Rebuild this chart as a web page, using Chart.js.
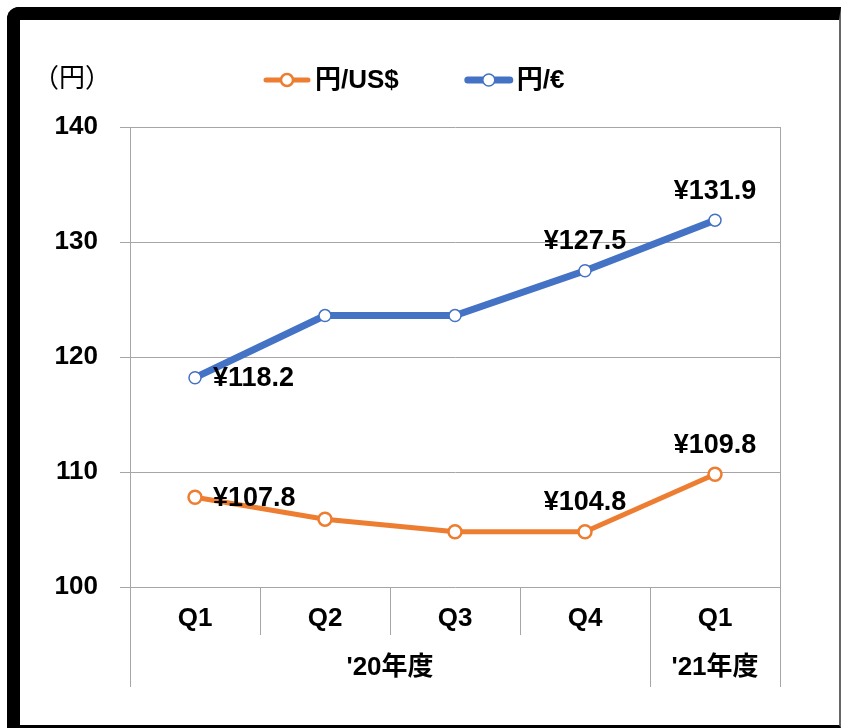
<!DOCTYPE html>
<html>
<head>
<meta charset="utf-8">
<script src="https://cdn.jsdelivr.net/npm/chart.js@4.4.1/dist/chart.umd.min.js"></script>
<style>
  html, body { margin: 0; padding: 0; background: #fff; }
  #wrap { position: relative; width: 841px; height: 728px; overflow: hidden; }
  #frame {
    position: absolute; left: 7px; top: 7px; width: 834px; height: 721px;
    box-sizing: border-box;
    border-top: 13px solid #000; border-left: 13px solid #000;
    border-right: 2px solid #666; border-bottom: 3px solid #000;
    border-top-left-radius: 12px;
  }
  #chart { position: absolute; left: 0; top: 0; }
</style>
</head>
<body>
<div id="wrap">
  <div id="frame"></div>
  <canvas id="chart" width="841" height="728"></canvas>
</div>
<script>
// Quarterly exchange rates (yen)
const quarters = ['Q1', 'Q2', 'Q3', 'Q4', 'Q1'];
const groupLabels = ["'20年度", "'21年度"];
const groupSpans = [4, 1];
const usdRates = [107.8, 105.9, 104.8, 104.8, 109.8];
const eurRates = [118.2, 123.6, 123.6, 127.5, 131.9];
const usdShowLabel = [true, false, false, true, true];
const eurShowLabel = [true, false, false, true, true];
const yTicks = [100, 110, 120, 130, 140];

const FONT = "'Liberation Sans', 'Noto Sans CJK JP', Arial, sans-serif";
const orange = '#ED7D31';
const blue = '#4472C4';
const gridColor = '#a6a6a6';

// where the value label sits relative to its point
const labelPlace = ['right', null, null, 'top', 'top'];

const extrasPlugin = {
  id: 'extras',
  afterDraw(chart) {
    const ctx = chart.ctx;
    const x = chart.scales.x;
    const area = chart.chartArea;
    const n = quarters.length;
    const bottomShort = 635, bottomLong = 687;

    const edge = i => {
      if (i <= 0) return area.left;
      if (i >= n) return area.right;
      return (x.getPixelForValue(i - 1) + x.getPixelForValue(i)) / 2;
    };

    ctx.save();
    ctx.strokeStyle = gridColor;
    ctx.lineWidth = 1;
    // group boundaries (long) and quarter boundaries (short)
    const groupEdges = [0];
    groupSpans.forEach(s => groupEdges.push(groupEdges[groupEdges.length - 1] + s));
    for (let i = 0; i <= n; i++) {
      const px = Math.round(edge(i)) + 0.5;
      const isGroup = groupEdges.includes(i);
      ctx.beginPath();
      ctx.moveTo(px, isGroup && (i === n) ? area.top : area.bottom);
      ctx.lineTo(px, isGroup ? bottomLong : bottomShort);
      ctx.stroke();
    }

    // group labels
    ctx.fillStyle = '#000';
    ctx.font = 'bold 26px ' + FONT;
    ctx.textAlign = 'center';
    ctx.textBaseline = 'middle';
    groupLabels.forEach((g, k) => {
      const cx = (edge(groupEdges[k]) + edge(groupEdges[k + 1])) / 2;
      ctx.fillText(g, cx, 668);
    });

    // unit label
    ctx.font = '26px ' + FONT;
    ctx.textAlign = 'left';
    ctx.fillText('（円）', 33, 80);

    // legend
    let lx = 263;
    chart.data.datasets.forEach(ds => {
      ctx.strokeStyle = ds.borderColor;
      ctx.lineWidth = ds.borderWidth;
      ctx.lineCap = 'round';
      ctx.beginPath();
      ctx.moveTo(lx + 3, 80);
      ctx.lineTo(lx + 45, 80);
      ctx.stroke();
      ctx.beginPath();
      ctx.arc(lx + 24, 80, 6, 0, Math.PI * 2);
      ctx.fillStyle = '#fff';
      ctx.fill();
      ctx.lineWidth = ds.pointBorderWidth;
      ctx.stroke();
      ctx.fillStyle = '#000';
      ctx.font = 'bold 26px ' + FONT;
      ctx.textAlign = 'left';
      ctx.fillText(ds.label, lx + 52, 81);
      lx += 52 + ctx.measureText(ds.label).width + 66;
    });

    // value labels
    ctx.font = 'bold 27px ' + FONT;
    ctx.fillStyle = '#000';
    const shows = [usdShowLabel, eurShowLabel];
    chart.data.datasets.forEach((ds, d) => {
      const meta = chart.getDatasetMeta(d);
      meta.data.forEach((pt, i) => {
        if (!shows[d][i]) return;
        const txt = '¥' + ds.data[i].toFixed(1);
        if (labelPlace[i] === 'right') {
          ctx.textAlign = 'left';
          ctx.fillText(txt, pt.x + 18, pt.y + 1);
        } else {
          ctx.textAlign = 'center';
          ctx.fillText(txt, pt.x, pt.y - 29);
        }
      });
    });
    ctx.restore();
  }
};

new Chart(document.getElementById('chart'), {
  type: 'line',
  data: {
    labels: quarters,
    datasets: [
      {
        label: '円/US$',
        data: usdRates,
        borderColor: orange,
        borderWidth: 5,
        pointRadius: 6.5,
        pointBorderWidth: 2.5,
        pointBackgroundColor: '#fff',
        pointBorderColor: orange,
        tension: 0
      },
      {
        label: '円/€',
        data: eurRates,
        borderColor: blue,
        borderWidth: 7,
        pointRadius: 6,
        pointBorderWidth: 1.5,
        pointBackgroundColor: '#fff',
        pointBorderColor: blue,
        tension: 0
      }
    ]
  },
  options: {
    responsive: false,
    animation: false,
    layout: { padding: { top: 127, right: 61, bottom: 0, left: 0 } },
    plugins: {
      legend: { display: false },
      tooltip: { enabled: false }
    },
    scales: {
      x: {
        offset: true,
        grid: { display: false, drawTicks: false },
        border: { display: false },
        ticks: {
          color: '#000',
          font: { family: FONT, size: 26, weight: 'bold' },
          padding: 16,
          maxRotation: 0
        },
        afterFit: s => { s.height = 141; }
      },
      y: {
        min: 100,
        max: 140,
        afterBuildTicks: s => { s.ticks = yTicks.map(v => ({ value: v })); },
        ticks: {
          color: '#000',
          font: { family: FONT, size: 26, weight: 'bold' },
          padding: 22
        },
        grid: { color: gridColor, lineWidth: 1, tickLength: 10 },
        border: { color: gridColor, width: 1 },
        afterFit: s => { s.width = 130; }
      }
    }
  },
  plugins: [extrasPlugin]
});
</script>
</body>
</html>
